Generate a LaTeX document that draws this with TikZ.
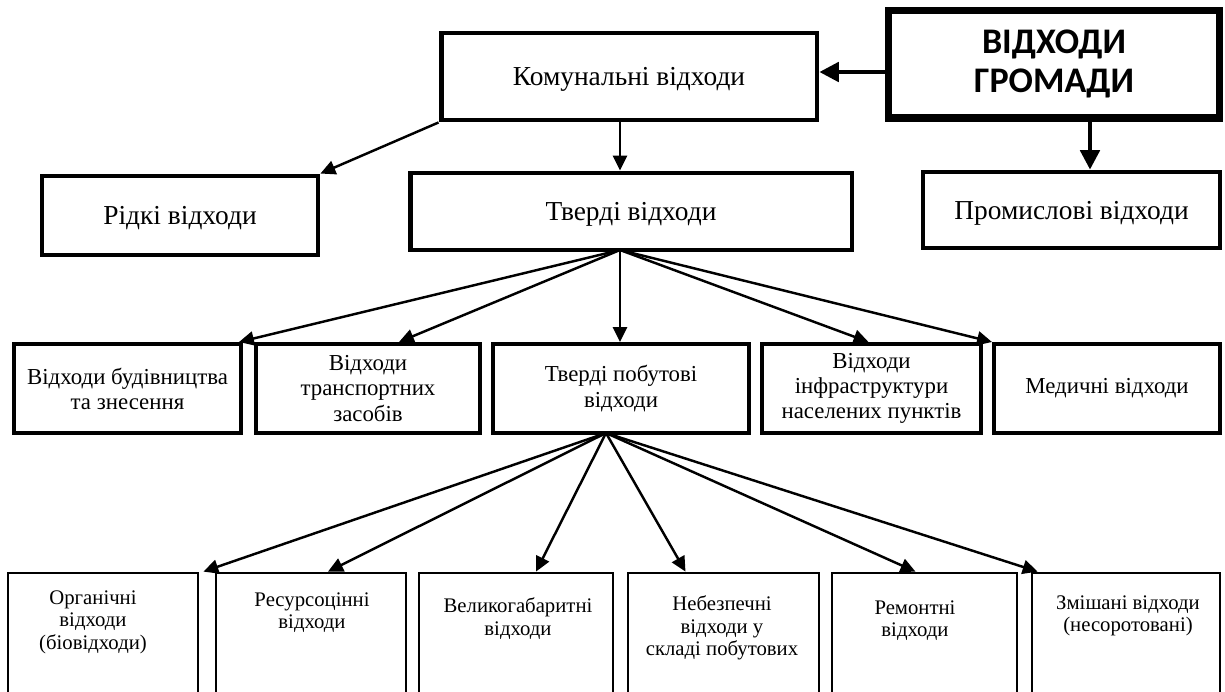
\documentclass[tikz,border=0pt]{standalone}
\usepackage{fontspec}
\setmainfont{Liberation Serif}
\newfontfamily\hfont{Carlito}
\usetikzlibrary{arrows.meta, calc}
\tikzstyle{big}=[draw, rectangle, inner sep=0pt, align=center, line width=2.8pt, text depth=0pt, font=\fontsize{15.6}{18}\selectfont]
\tikzstyle{mid}=[draw, rectangle, inner sep=0pt, align=center, line width=2.3pt, minimum height=1.78cm, font=\fontsize{13}{14.3}\selectfont]
\tikzstyle{low}=[draw, rectangle, inner sep=0pt, line width=1.6pt, minimum height=2.94cm]
\tikzstyle{lowtxt}=[anchor=north, align=center, inner sep=0pt, font=\fontsize{11.8}{13}\selectfont]
\tikzstyle{fat}=[line width=2.2pt, -{Triangle[length=11pt, width=11pt]}]
\tikzstyle{arr}=[line width=1.4pt, -{Triangle[length=8.5pt, width=8pt]}]

\begin{document}
\begin{tikzpicture}[x=0.02cm, y=-0.02cm]
    \useasboundingbox (0,0) rectangle (1225,691);
    \clip (0,0) rectangle (1225,691);
    % top
    \node[big, minimum width=7.52cm, minimum height=1.74cm] (kom) at (629,76.5) {Комунальні відходи};
    \node[big, line width=4pt, minimum width=6.64cm, minimum height=2.16cm, text depth=,
          font=\hfont\bfseries\fontsize{20.5}{22}\selectfont] (grom) at (1054,64) {ВІДХОДИ\\ГРОМАДИ};
    \node[big, minimum width=5.52cm, minimum height=1.58cm] (rid) at (180,215.5) {Рідкі відходи};
    \node[big, minimum width=8.84cm, minimum height=1.54cm] (tve) at (631,211.5) {Тверді відходи};
    \node[big, minimum width=5.94cm, minimum height=1.52cm] (pro) at (1071.5,210) {Промислові відходи};
    \coordinate (g1) at (888,72);
    \coordinate (g2) at (1090,118);
    \coordinate (k1) at (620,120);
    \draw[fat] (g1) -- (kom.east |- g1);
    \draw[fat] (g2) -- (pro.north -| g2);
    \draw[arr] (kom.south west) -- (rid.north east);
    \draw[arr] (k1) -- (tve.north -| k1);
    % second level
    \node[mid, minimum width=4.54cm] (bud) at (127.5,388.5) {Відходи будівництва\\та знесення};
    \node[mid, minimum width=4.48cm] (tra) at (368,388.5) {Відходи\\транспортних\\засобів};
    \node[mid, minimum width=5.12cm] (tpv) at (621,388.5) {Тверді побутові\\відходи};
    \node[mid, minimum width=4.38cm] (inf) at (871.5,388.5) {Відходи\\інфраструктури\\населених пунктів};
    \node[mid, minimum width=4.52cm] (med) at (1107,388.5) {Медичні відходи};
    \coordinate (t1) at (620,250);
    \draw[arr] (t1) -- ($(bud.north east)+(-4,0)$);
    \draw[arr] (t1) -- ($(tra.north)+(31,0)$);
    \draw[arr] (t1) -- (tpv.north -| t1);
    \draw[arr] (t1) -- ($(inf.north)+(-3,0)$);
    \draw[arr] (t1) -- (med.north west);
    % third level
    \node[low, minimum width=3.80cm] (org) at (103,646.5) {};
    \node[low, minimum width=3.80cm] (res) at (311,646.5) {};
    \node[low, minimum width=3.88cm] (vel) at (516,646.5) {};
    \node[low, minimum width=3.82cm] (neb) at (723.5,646.5) {};
    \node[low, minimum width=3.70cm] (rem) at (924.5,646.5) {};
    \node[low, minimum width=3.76cm] (zmi) at (1126,646.5) {};
    \node[lowtxt] (orgt) at (93,590) {Органічні\\відходи\\(біовідходи)};
    \node[lowtxt] (rest) at (312,592) {Ресурсоцінні\\відходи};
    \node[lowtxt] (velt) at (518,597) {Великогабаритні\\відходи};
    \node[lowtxt] (nebt) at (722,595) {Небезпечні\\відходи у\\складі побутових};
    \node[lowtxt] (remt) at (915,600) {Ремонтні\\відходи};
    \node[lowtxt] (zmit) at (1128,595) {Змішані відходи\\(несоротовані)};
    \coordinate (p1) at (606,433);
    \draw[arr] (p1) -- ($(org.north east)+(4,0)$);
    \draw[arr] (p1) -- ($(res.north)+(17,0)$);
    \draw[arr] (p1) -- ($(vel.north)+(20,0)$);
    \draw[arr] (p1) -- ($(neb.north)+(-38,0)$);
    \draw[arr] (p1) -- ($(rem.north)+(-9,0)$);
    \draw[arr] (p1) -- ($(zmi.north west)+(7,0)$);
\end{tikzpicture}
\end{document}
